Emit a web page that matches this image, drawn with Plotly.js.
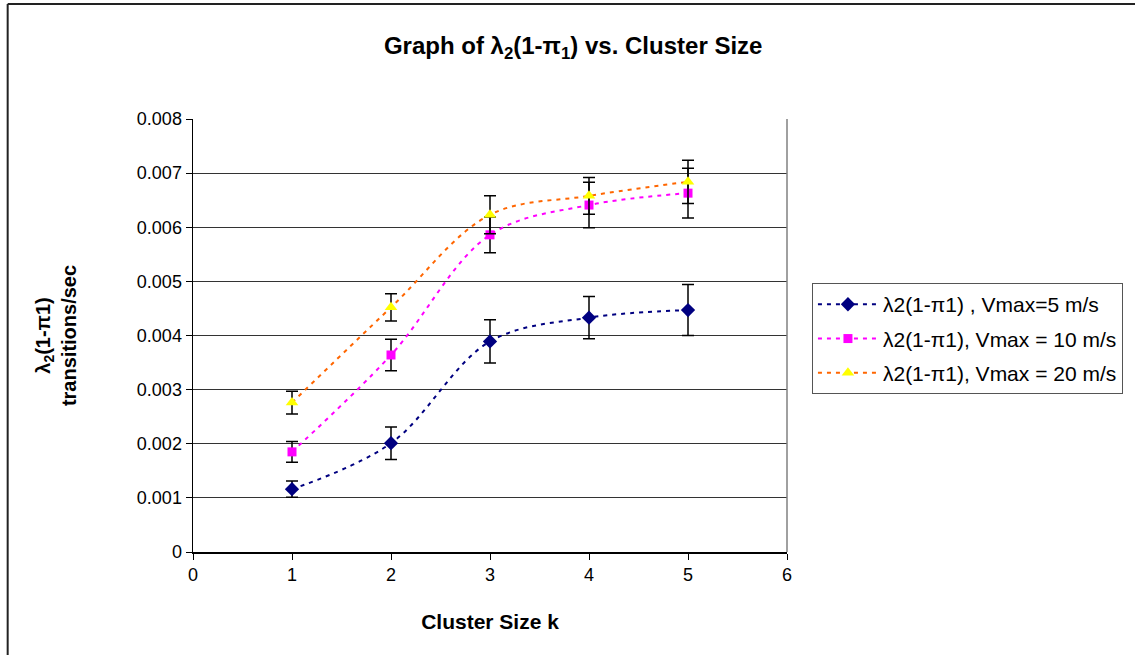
<!DOCTYPE html>
<html>
<head>
<meta charset="utf-8">
<script src="https://cdn.plot.ly/plotly-3.0.1.min.js"></script>
<style>
html,body{margin:0;padding:0;background:#fff;}
#chart{width:1135px;height:655px;}
</style>
</head>
<body>
<div id="chart"></div>
<script>
// Data
var clusterSize = [1, 2, 3, 4, 5];
var v5 = [0.00116, 0.00201, 0.00389, 0.00433, 0.00447];
var v5err = [0.00015, 0.00030, 0.00040, 0.00039, 0.00047];
var v10 = [0.00185, 0.00364, 0.00586, 0.00641, 0.00663];
var v10err = [0.00019, 0.00029, 0.00033, 0.00042, 0.00046];
var v20 = [0.00276, 0.00452, 0.00623, 0.00658, 0.00684];
var v20err = [0.00021, 0.00025, 0.00035, 0.00034, 0.00040];
var seriesNames = ["λ2(1-π1) , Vmax=5 m/s", "λ2(1-π1), Vmax = 10 m/s", "λ2(1-π1), Vmax = 20 m/s"];
var yTickVals = [0, 0.001, 0.002, 0.003, 0.004, 0.005, 0.006, 0.007, 0.008];
var yTickText = ["0", "0.001", "0.002", "0.003", "0.004", "0.005", "0.006", "0.007", "0.008"];
var xTickVals = [0, 1, 2, 3, 4, 5, 6];

var font = "Arial, 'Liberation Sans', sans-serif";

function errBar(arr) {
  return {type: 'data', array: arr, visible: true, color: '#000', thickness: 1.5, width: 6};
}

var traces = [
  {x: clusterSize, y: v5, name: seriesNames[0], legendgroup: 'a', type: 'scatter', mode: 'lines+markers',
   line: {color: '#000080', width: 2, dash: '4px,5px', shape: 'spline', smoothing: 1},
   marker: {symbol: 'diamond', size: 11, color: '#000080'}, error_y: errBar(v5err)},
  {x: clusterSize, y: v10, name: seriesNames[1], legendgroup: 'b', type: 'scatter', mode: 'lines+markers',
   line: {color: '#FF00FF', width: 2, dash: '4px,5px', shape: 'spline', smoothing: 1},
   marker: {symbol: 'square', size: 9, color: '#FF00FF'}, error_y: errBar(v10err)},
  {x: clusterSize, y: v20, name: seriesNames[2], legendgroup: 'c', type: 'scatter', mode: 'lines+markers',
   line: {color: '#FF6600', width: 2, dash: '4px,5px', shape: 'spline', smoothing: 1},
   marker: {symbol: 'triangle-up', size: 11, color: '#FFFF00'}, error_y: errBar(v20err)}
];

var layout = {
  width: 1135, height: 655,
  margin: {l: 193, r: 346, t: 119, b: 103, pad: 0},
  paper_bgcolor: '#fff', plot_bgcolor: '#fff',
  font: {family: font, size: 18, color: '#000'},
  title: {text: '<b>Graph of λ<sub>2</sub>(1-π<sub>1</sub>) vs. Cluster Size</b>',
          font: {family: font, size: 24, color: '#000'},
          xref: 'container', x: 0.505, xanchor: 'center', yref: 'container', y: 0.93, yanchor: 'middle'},
  xaxis: {range: [0, 6], tickvals: xTickVals, ticks: 'outside', ticklen: 6, tickcolor: '#000', tickwidth: 1,
          showline: true, linecolor: '#000', linewidth: 1.5, showgrid: false, zeroline: false,
          tickfont: {family: font, size: 18}, fixedrange: true,
          title: {text: '<b>Cluster Size k</b>', font: {family: font, size: 21}, standoff: 30}},
  yaxis: {range: [0, 0.008], tickvals: yTickVals, ticktext: yTickText, ticks: 'outside', ticklen: 6,
          tickcolor: '#000', tickwidth: 1, showline: true, linecolor: '#000', linewidth: 1.5,
          showgrid: true, gridcolor: '#333', gridwidth: 1, zeroline: false,
          tickfont: {family: font, size: 18}, fixedrange: true,
          title: {text: '<b>λ<sub>2</sub>(1-π1)<br>transitions/sec</b>', font: {family: font, size: 20}, standoff: 55}},
  showlegend: true,
  legend: {x: 1.042, xanchor: 'left', y: 0.621, yanchor: 'top', bgcolor: '#fff',
           bordercolor: '#555', borderwidth: 1, font: {family: font, size: 21}, tracegroupgap: 4,
           itemwidth: 60},
  shapes: [
    {type: 'line', xref: 'paper', yref: 'paper', x0: 1, x1: 1, y0: 0, y1: 1, line: {color: '#808080', width: 1.5}},
    {type: 'line', xref: 'paper', yref: 'paper', x0: -0.312, x1: 1.6, y0: 1.2656, y1: 1.2656, line: {color: '#222', width: 2}},
    {type: 'line', xref: 'paper', yref: 'paper', x0: -0.312, x1: -0.312, y0: -0.3, y1: 1.2656, line: {color: '#222', width: 2}}
  ]
};

Plotly.newPlot('chart', traces, layout, {displayModeBar: false, staticPlot: true});
</script>
</body>
</html>
